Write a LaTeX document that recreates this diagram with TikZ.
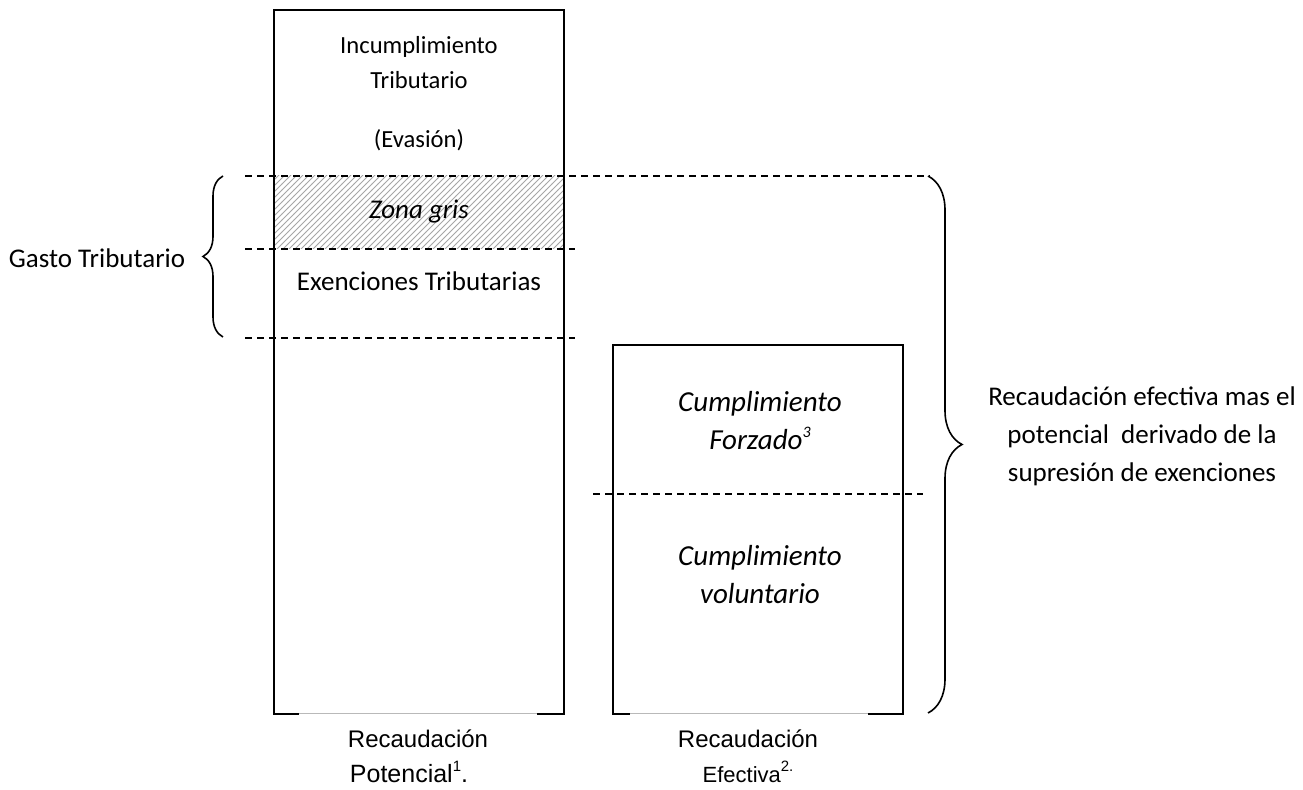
\documentclass[tikz,border=0pt]{standalone}
\usepackage{fontspec}
\setmainfont{Carlito}
\newfontfamily\arialfont{Liberation Sans}
\usetikzlibrary{calc, patterns, decorations.pathreplacing}

% Apice piccolo per le note
\newcommand{\nota}[3]{\raisebox{#1}{\fontsize{#2}{#2}\selectfont #3}}

\tikzset{
	bordo/.style={line width=1pt},
	trattino/.style={line width=0.6pt, dash pattern=on 3.5pt off 2.5pt},
	fondo/.style={gray!55, line width=0.5pt},
	testo/.style={font=\fontsize{13.5}{19}\selectfont, align=center, inner sep=0pt},
	corsivo/.style={font=\fontsize{14.5}{19}\selectfont\itshape, align=center, inner sep=0pt},
	etichetta/.style={font=\arialfont\fontsize{12}{14}\selectfont, inner sep=0pt},
}

\begin{document}
\begin{tikzpicture}[x=0.5pt, y=-0.5pt]
			\useasboundingbox (0,0) rectangle (1303,790);
			
			% Vertici delle due colonne
			\coordinate (A1) at (274, 10);
			\coordinate (B1) at (564, 10);
			\coordinate (C1) at (564, 714);
			\coordinate (D1) at (274, 714);
			\coordinate (A2) at (613, 345);
			\coordinate (B2) at (903, 345);
			\coordinate (C2) at (903, 714);
			\coordinate (D2) at (613, 714);
			
			% Zona tratteggiata (zona gris)
			\fill[pattern=north east lines, pattern color=gray!70] (274, 176) rectangle (564, 249);
			
			% Colonna della recaudacion potencial
			\draw[fondo] (D1) -- (C1);
			\draw[bordo] ($(D1)+(25,0)$) -- (D1) -- (A1) -- (B1) -- (C1) -- ($(C1)+(-27,0)$);
			
			% Colonna della recaudacion efectiva
			\draw[fondo] (D2) -- (C2);
			\draw[bordo] ($(D2)+(17,0)$) -- (D2) -- (A2) -- (B2) -- (C2) -- ($(C2)+(-35,0)$);
			
			% Estremi delle linee tratteggiate
			\coordinate (L1) at (245, 176);
			\coordinate (R1) at (930, 176);
			\coordinate (L2) at (245, 249);
			\coordinate (R2) at (575, 249);
			\coordinate (L3) at (245, 338);
			\coordinate (R3) at (575, 338);
			\coordinate (L4) at (593, 494);
			\coordinate (R4) at (923, 494);
			
			% Linee tratteggiate
			\draw[trattino] (L1) -- (R1);
			\draw[trattino] (L2) -- (R2);
			\draw[trattino] (L3) -- (R3);
			\draw[trattino] (L4) -- (R4);
			
			% Graffe
			\draw[bordo, line width=0.8pt, decorate, decoration={brace, amplitude=10pt, aspect=0.5}] (223, 337) -- (223, 176);
			\draw[bordo, line width=0.8pt, decorate, decoration={brace, amplitude=17pt, aspect=0.5}] (928, 176) -- (928, 713);
			
			% Testi della prima colonna
			\node[testo, font=\fontsize{12.3}{14}\selectfont] (incumpl) at (419, 47) {Incumplimiento};
			\node[testo, font=\fontsize{12.3}{14}\selectfont] (tribut) at (419, 80) {Tributario};
			\node[testo, font=\fontsize{12.3}{14}\selectfont] (evasion) at (419, 140) {(Evasión)};
			\node[testo, font=\fontsize{13.5}{16}\selectfont\itshape] (gris) at (419, 212) {Zona gris};
			\node[testo] (exenc) at (419, 281) {Exenciones Tributarias};
			
			% Testi della seconda colonna
			\node[corsivo] (forzado) at (760, 421) {Cumplimiento\\Forzado\nota{0.9ex}{8}{3}};
			\node[corsivo] (volunt) at (760, 575) {Cumplimiento\\voluntario};
			
			% Testi ai lati
			\node[testo] (gasto) at (97, 258) {Gasto Tributario};
			\node[testo] (efectiva) at (1142, 436) {Recaudación efectiva mas el\\potencial\ \ derivado de la\\supresión de exenciones};
			
			% Etichette in basso
			\node[etichetta] (potA) at (418, 739) {Recaudación};
			\node[etichetta, font=\arialfont\fontsize{12.5}{14}\selectfont] (potB) at (409, 772) {Potencial\nota{0.9ex}{7.5}{1}.};
			\node[etichetta] (efeA) at (748, 739) {Recaudación};
			\node[etichetta, font=\arialfont\fontsize{11}{14}\selectfont] (efeB) at (748, 772) {Efectiva\nota{0.9ex}{7.5}{2.}};
		\end{tikzpicture}
\end{document}
